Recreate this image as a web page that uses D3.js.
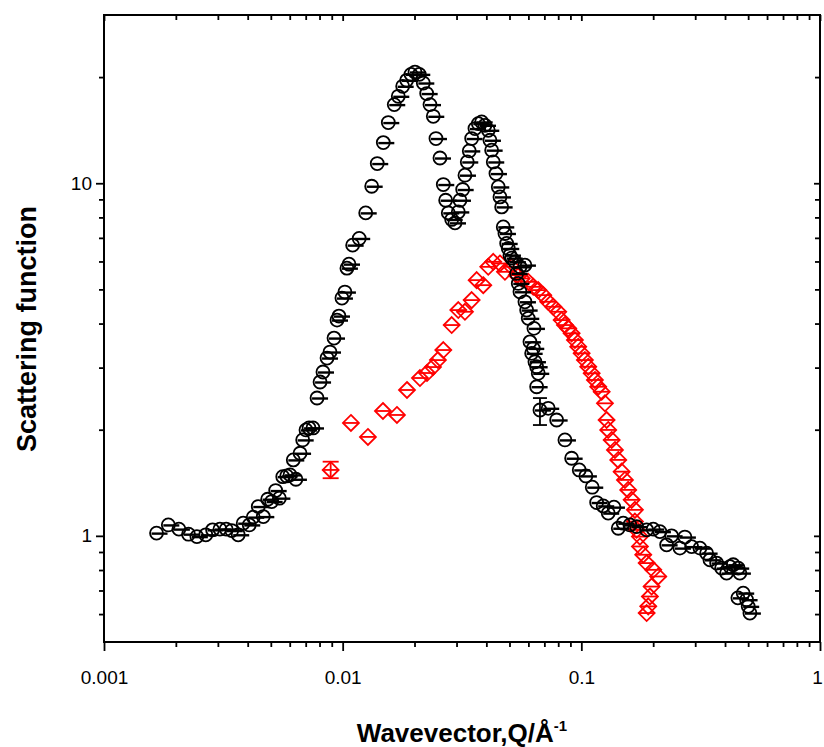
<!DOCTYPE html>
<html>
<head>
<meta charset="utf-8">
<script src="https://cdn.jsdelivr.net/npm/d3@7"></script>
<style>
  html, body { margin: 0; padding: 0; background: #fff; }
  svg { display: block; font-family: "Liberation Sans", Arial, sans-serif; }
</style>
</head>
<body>
<svg id="chart" width="824" height="747"></svg>
<script>
// Sample A (black circles): wavevector Q (1/Å) and scattering function S(Q)
const blackQ = [
  0.00166, 0.00186, 0.00206, 0.00226, 0.00245, 0.00267, 0.00285, 0.00306, 0.00325, 0.00343,
  0.00365, 0.00383, 0.00406, 0.00422, 0.00443, 0.00465, 0.00485, 0.00504, 0.00524, 0.00543,
  0.00561, 0.00583, 0.00602, 0.00637, 0.00621, 0.00663, 0.00680, 0.00702, 0.00723, 0.00751,
  0.00781, 0.00804, 0.00827, 0.00860, 0.00885, 0.00920, 0.00947, 0.00965, 0.00993, 0.01022,
  0.01042, 0.01063, 0.01101, 0.01173, 0.01249, 0.01323, 0.01396, 0.01480, 0.01553, 0.01645,
  0.01710, 0.01784, 0.01854, 0.01933, 0.02009, 0.02094, 0.02177, 0.02249, 0.02322, 0.02397,
  0.02460, 0.02557, 0.02640, 0.02701, 0.02770, 0.02863, 0.02955, 0.03051, 0.03101, 0.03183,
  0.03254, 0.03327, 0.03392, 0.03471, 0.03584, 0.03700, 0.03823, 0.03947, 0.04074, 0.04141,
  0.04209, 0.04275, 0.04388, 0.04487, 0.04561, 0.04636, 0.04708, 0.04786, 0.04866, 0.04941,
  0.05023, 0.05106, 0.05271, 0.05358, 0.05442, 0.05532, 0.05532, 0.05804, 0.05804, 0.05900,
  0.05992, 0.06092, 0.06192, 0.06289, 0.06331, 0.06392, 0.06498, 0.06599, 0.06498, 0.06709,
  0.07265, 0.07880, 0.08537, 0.09106, 0.09800, 0.1045, 0.1111, 0.1159, 0.1235, 0.1296,
  0.1370, 0.1428, 0.1498, 0.1598, 0.1705, 0.1878, 0.2001, 0.2134, 0.2277, 0.2389,
  0.2589, 0.2716, 0.2898, 0.3140, 0.3349, 0.3458, 0.3688, 0.3870, 0.4061, 0.4192,
  0.4328, 0.4542, 0.4617, 0.4529, 0.4767, 0.4925, 0.5002, 0.5085
];
const blackS = [
  1.018, 1.074, 1.045, 1.011, 0.995, 1.007, 1.040, 1.045, 1.045, 1.035,
  1.007, 1.086, 1.074, 1.130, 1.211, 1.134, 1.270, 1.251, 1.344, 1.279,
  1.472, 1.479, 1.489, 1.447, 1.642, 1.715, 1.871, 1.997, 2.023, 2.023,
  2.460, 2.731, 2.915, 3.193, 3.321, 3.638, 4.092, 4.200, 4.724, 4.913,
  5.744, 5.896, 6.675, 6.972, 8.240, 9.806, 11.37, 13.04, 14.86, 16.71,
  17.64, 18.83, 19.58, 20.36, 20.67, 20.36, 19.24, 17.96, 16.71, 15.48,
  13.39, 11.79, 9.915, 8.950, 8.240, 7.893, 7.719, 8.292, 8.950, 9.598,
  10.54, 11.49, 12.35, 13.39, 14.29, 14.76, 14.92, 14.60, 14.13, 13.24,
  12.41, 11.49, 10.65, 9.761, 9.146, 8.568, 7.520, 7.203, 6.749, 6.531,
  6.252, 6.131, 5.985, 5.549, 5.198, 4.922, 5.793, 5.858, 4.611, 4.368,
  4.138, 3.550, 3.293, 3.401, 3.876, 3.117, 3.017, 2.890, 2.648, 2.275,
  2.300, 2.131, 1.871, 1.660, 1.538, 1.479, 1.374, 1.243, 1.216, 1.160,
  1.206, 1.051, 1.086, 1.074, 1.062, 1.040, 1.045, 1.028, 0.943, 1.000,
  0.923, 0.992, 0.932, 0.923, 0.893, 0.855, 0.837, 0.810, 0.784, 0.818,
  0.828, 0.810, 0.784, 0.667, 0.688, 0.659, 0.631, 0.604
];
// Points of sample A whose error bars are large enough to show
const blackErrQ  = [0.06709];
const blackErrLo = [2.062];
const blackErrHi = [2.459];

// Sample B (red diamonds)
const redQ = [
  0.008907, 0.01083, 0.01276, 0.01475, 0.01688, 0.01860, 0.02108, 0.02256, 0.02390, 0.02507,
  0.02640, 0.02863, 0.03051, 0.03254, 0.03471, 0.03643, 0.03882, 0.04074, 0.04275, 0.04561,
  0.04786, 0.05106, 0.05358, 0.05621, 0.05993, 0.06289, 0.06599, 0.06925, 0.07265, 0.07625,
  0.08002, 0.08270, 0.08537, 0.08813, 0.09106, 0.09401, 0.09705, 0.1003, 0.1035, 0.1069,
  0.1105, 0.1140, 0.1177, 0.1217, 0.1256, 0.1276, 0.1296, 0.1340, 0.1383, 0.1428,
  0.1475, 0.1523, 0.1572, 0.1625, 0.1677, 0.1677, 0.1705, 0.1760, 0.1760, 0.1817,
  0.1878, 0.2001, 0.2100, 0.1970, 0.1938, 0.1907, 0.1878
];
const redS = [
  1.538, 2.090, 1.908, 2.260, 2.202, 2.592, 2.803, 2.896, 3.011, 3.151,
  3.365, 3.961, 4.368, 4.320, 4.662, 5.311, 5.140, 5.793, 5.985, 5.922,
  5.608, 5.793, 5.488, 5.370, 5.253, 5.084, 4.976, 4.816, 4.611, 4.463,
  4.320, 4.092, 3.961, 3.876, 3.752, 3.592, 3.439, 3.293, 3.151, 3.017,
  2.890, 2.767, 2.648, 2.563, 2.376, 2.131, 1.997, 1.871, 1.752, 1.642,
  1.521, 1.441, 1.350, 1.265, 1.185, 1.098, 1.040, 0.995, 0.933, 0.884,
  0.837, 0.801, 0.767, 0.718, 0.673, 0.631, 0.604
];
const redErrQ  = [0.008907];
const redErrLo = [1.457];
const redErrHi = [1.623];

// Axis ticks
const xMajor = [0.001, 0.01, 0.1, 1];
const xMajorLabels = ["0.001", "0.01", "0.1", "1"];
const xMinor = [2,3,4,5,6,7,8,9].flatMap(m => [0.001, 0.01, 0.1].map(d => m * d));
const yMajor = [1, 10];
const yMajorLabels = ["1", "10"];
const yMinor = [0.6, 0.7, 0.8, 0.9, 2, 3, 4, 5, 6, 7, 8, 9, 20];

const svg = d3.select("#chart");
const L = 104, R = 820, T = 15, B = 642;

const x = d3.scaleLog().domain([0.001, 1]).range([L, R]);
const y = d3.scaleLog().domain([0.5, 30]).range([B, T]);

const fmt = (vals, labels) => d => labels[vals.indexOf(d)];

function styleAxis(g) {
  g.select(".domain").remove();
  g.selectAll(".tick line").attr("stroke", "#000").attr("stroke-width", 1.8);
}

// bottom axis: outward ticks with labels
svg.append("g").attr("transform", `translate(0,${B})`)
  .call(d3.axisBottom(x).tickValues(xMajor).tickSize(9).tickPadding(20)
    .tickFormat(fmt(xMajor, xMajorLabels)))
  .call(styleAxis)
  .call(g => g.selectAll("text").attr("font-size", 19).attr("fill", "#000")
    .attr("font-family", "'Liberation Sans', Arial, sans-serif"))
  // keep the last label inside the canvas
  .call(g => g.selectAll(".tick").filter(d => d === 1).select("text").attr("dx", -3));
svg.append("g").attr("transform", `translate(0,${B})`)
  .call(d3.axisBottom(x).tickValues(xMinor).tickSize(5).tickFormat(""))
  .call(styleAxis);

// top axis: inward ticks
svg.append("g").attr("transform", `translate(0,${T})`)
  .call(d3.axisTop(x).tickValues(xMajor).tickSize(-6).tickFormat(""))
  .call(styleAxis);
svg.append("g").attr("transform", `translate(0,${T})`)
  .call(d3.axisTop(x).tickValues(xMinor).tickSize(-5).tickFormat(""))
  .call(styleAxis);

// left axis: outward ticks with labels
svg.append("g").attr("transform", `translate(${L},0)`)
  .call(d3.axisLeft(y).tickValues(yMajor).tickSize(8).tickPadding(4)
    .tickFormat(fmt(yMajor, yMajorLabels)))
  .call(styleAxis)
  .call(g => g.selectAll("text").attr("font-size", 19).attr("fill", "#000")
    .attr("font-family", "'Liberation Sans', Arial, sans-serif"));
svg.append("g").attr("transform", `translate(${L},0)`)
  .call(d3.axisLeft(y).tickValues(yMinor).tickSize(5).tickFormat(""))
  .call(styleAxis);

// right axis: inward ticks
svg.append("g").attr("transform", `translate(${R},0)`)
  .call(d3.axisRight(y).tickValues(yMajor).tickSize(-6).tickFormat(""))
  .call(styleAxis);
svg.append("g").attr("transform", `translate(${R},0)`)
  .call(d3.axisRight(y).tickValues(yMinor).tickSize(-5).tickFormat(""))
  .call(styleAxis);

// plot frame
svg.append("rect")
  .attr("x", L).attr("y", T).attr("width", R - L).attr("height", B - T)
  .attr("fill", "none").attr("stroke", "#000").attr("stroke-width", 2);

// axis titles
const xt = svg.append("text")
  .attr("x", (L + R) / 2).attr("y", 742)
  .attr("text-anchor", "middle")
  .attr("font-size", 26).attr("font-weight", "bold").attr("fill", "#000");
xt.append("tspan").text("Wavevector,Q/Å");
xt.append("tspan").attr("font-size", 15).attr("dy", -11).text("-1");

svg.append("text")
  .attr("transform", `translate(36,329) rotate(-90)`)
  .attr("text-anchor", "middle")
  .attr("font-size", 27).attr("font-weight", "bold").attr("fill", "#000")
  .text("Scattering function");

// markers
const blackPts = blackQ.map((q, i) => ({ q, s: blackS[i] }));
const redPts = redQ.map((q, i) => ({ q, s: redS[i] }));

const plot = svg.append("g");

// red diamonds with centre bar
const rg = plot.append("g").attr("stroke", "#ff0000").attr("stroke-width", 1.8).attr("fill", "none");
rg.selectAll("path.d").data(redPts).join("path")
  .attr("class", "d")
  .attr("d", d => {
    const cx = x(d.q), cy = y(d.s), h = 8;
    return `M${cx},${cy - h}L${cx + h},${cy}L${cx},${cy + h}L${cx - h},${cy}Z`;
  });
rg.selectAll("line.c").data(redPts).join("line")
  .attr("class", "c")
  .attr("x1", d => x(d.q) - 8).attr("x2", d => x(d.q) + 8)
  .attr("y1", d => y(d.s)).attr("y2", d => y(d.s));
// red error bars
redErrQ.forEach((q, i) => {
  const cx = x(q), y0 = y(redErrLo[i]), y1 = y(redErrHi[i]);
  rg.append("line").attr("x1", cx).attr("x2", cx).attr("y1", y0).attr("y2", y1);
  rg.append("line").attr("x1", cx - 8).attr("x2", cx + 8).attr("y1", y0).attr("y2", y0);
  rg.append("line").attr("x1", cx - 8).attr("x2", cx + 8).attr("y1", y1).attr("y2", y1);
});

// black circles with error-bar caps
const bg = plot.append("g").attr("stroke", "#000").attr("stroke-width", 1.8).attr("fill", "none");
bg.selectAll("circle").data(blackPts).join("circle")
  .attr("cx", d => x(d.q)).attr("cy", d => y(d.s)).attr("r", 6.5);
bg.selectAll("line.c").data(blackPts).join("line")
  .attr("class", "c")
  .attr("stroke-width", 2.4)
  .attr("x1", d => x(d.q) - 5).attr("x2", d => x(d.q) + 11)
  .attr("y1", d => y(d.s) + 0.5).attr("y2", d => y(d.s) + 0.5);
blackErrQ.forEach((q, i) => {
  const cx = x(q), y0 = y(blackErrLo[i]), y1 = y(blackErrHi[i]);
  bg.append("line").attr("x1", cx).attr("x2", cx).attr("y1", y0).attr("y2", y1);
  bg.append("line").attr("x1", cx - 7).attr("x2", cx + 7).attr("y1", y0).attr("y2", y0);
  bg.append("line").attr("x1", cx - 7).attr("x2", cx + 7).attr("y1", y1).attr("y2", y1);
});
</script>
</body>
</html>
